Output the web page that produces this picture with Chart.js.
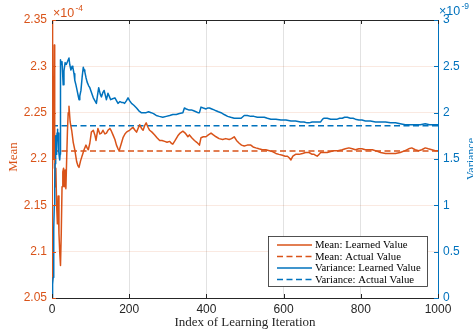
<!DOCTYPE html>
<html>
<head>
<meta charset="utf-8">
<script src="https://cdn.jsdelivr.net/npm/chart.js@4.4.1/dist/chart.umd.min.js"></script>
<style>
  html, body { margin: 0; padding: 0; background: #fff; }
  #chart { display: block; }
</style>
</head>
<body>
<canvas id="chart" width="473" height="333"></canvas>
<script>
// values
// mean is in units of 1e-4, variance in units of 1e-9
const meanIter = [0, 1, 2, 3, 4, 5, 6, 7, 8, 10, 12, 14, 16, 18, 20, 22, 24, 26, 28, 30,
    32, 34, 36, 38, 40, 42, 44, 47, 51, 55, 59, 64, 67, 70, 74, 77, 80, 83, 88, 91,
    94, 98, 102, 107, 111, 114, 119, 124, 128, 132, 137, 141, 145, 150, 154, 158, 163, 167, 171, 174,
    179, 184, 189, 193, 197, 201, 206, 210, 215, 219, 223, 227, 232, 236, 240, 244, 249, 253, 259, 266,
    272, 279, 285, 292, 298, 305, 309, 313, 319, 326, 332, 339, 345, 352, 356, 362, 369, 375, 382, 386,
    392, 399, 405, 412, 418, 425, 433, 442, 450, 459, 465, 472, 478, 485, 491, 498, 506, 515, 521, 528,
    536, 545, 554, 563, 571, 580, 588, 597, 604, 610, 615, 619, 624, 631, 640, 649, 657, 666, 674, 679,
    683, 687, 692, 696, 705, 713, 722, 730, 741, 752, 760, 769, 778, 786, 795, 803, 812, 821, 830, 838,
    851, 864, 877, 890, 902, 915, 924, 932, 941, 950, 958, 967, 975, 984, 993, 1000];
const meanLearned = [2.350, 2.240, 2.190, 2.260, 2.200, 2.230, 2.323, 2.220, 2.170, 2.190, 2.150, 2.130, 2.160, 2.120, 2.100, 2.085, 2.120, 2.170, 2.186, 2.190,
    2.170, 2.188, 2.168, 2.200, 2.230, 2.250, 2.257, 2.240, 2.231, 2.218, 2.210, 2.197, 2.193, 2.191, 2.198, 2.202, 2.206, 2.210, 2.215, 2.212,
    2.210, 2.217, 2.229, 2.231, 2.226, 2.220, 2.233, 2.227, 2.228, 2.231, 2.227, 2.228, 2.231, 2.233, 2.230, 2.226, 2.221, 2.215, 2.211, 2.209,
    2.216, 2.223, 2.227, 2.229, 2.230, 2.231, 2.233, 2.234, 2.231, 2.229, 2.233, 2.237, 2.233, 2.231, 2.236, 2.239, 2.234, 2.231, 2.229, 2.226,
    2.223, 2.220, 2.220, 2.219, 2.218, 2.219, 2.217, 2.216, 2.220, 2.225, 2.228, 2.230, 2.228, 2.224, 2.226, 2.223, 2.220, 2.218, 2.215, 2.223,
    2.224, 2.224, 2.226, 2.228, 2.226, 2.224, 2.222, 2.221, 2.222, 2.221, 2.222, 2.224, 2.220, 2.217, 2.215, 2.214, 2.215, 2.215, 2.213, 2.212,
    2.211, 2.210, 2.210, 2.209, 2.208, 2.206, 2.205, 2.204, 2.203, 2.203, 2.201, 2.199, 2.203, 2.205, 2.205, 2.206, 2.207, 2.207, 2.205, 2.205,
    2.204, 2.203, 2.205, 2.207, 2.207, 2.207, 2.208, 2.209, 2.209, 2.210, 2.211, 2.212, 2.211, 2.210, 2.211, 2.211, 2.210, 2.210, 2.210, 2.209,
    2.207, 2.206, 2.206, 2.206, 2.207, 2.209, 2.211, 2.212, 2.210, 2.209, 2.210, 2.212, 2.211, 2.210, 2.209, 2.209];

const varIter = [0, 1, 2, 3, 4, 5, 6, 7, 8, 9, 10, 11, 12, 13, 14, 15, 16, 17, 18, 19,
    20, 21, 22, 24, 26, 29, 31, 34, 37, 40, 44, 46, 49, 52, 54, 57, 59, 62, 65, 68,
    70, 72, 75, 78, 81, 83, 85, 88, 91, 95, 98, 102, 107, 111, 115, 118, 121, 125, 128, 132,
    135, 138, 141, 145, 149, 152, 157, 163, 167, 171, 176, 180, 184, 188, 193, 197, 201, 206, 212, 219,
    225, 231, 237, 244, 250, 257, 263, 270, 278, 287, 296, 305, 313, 322, 330, 339, 343, 348, 354, 361,
    367, 373, 378, 382, 386, 392, 399, 403, 408, 414, 420, 425, 431, 438, 446, 455, 463, 472, 480, 490,
    498, 506, 515, 523, 532, 541, 550, 558, 567, 580, 593, 606, 619, 631, 644, 653, 661, 666, 674, 683,
    692, 696, 701, 705, 713, 722, 730, 739, 745, 752, 758, 765, 773, 780, 786, 795, 803, 812, 825, 838,
    851, 864, 877, 890, 902, 915, 928, 941, 954, 967, 978, 988, 1000];
const varLearned = [0.00, 0.05, 0.15, 0.22, 0.45, 0.75, 1.00, 1.20, 1.45, 1.68, 1.75, 1.60, 1.55, 1.78, 1.82, 1.70, 1.78, 1.63, 1.58, 1.52,
    1.49, 1.55, 2.57, 2.52, 2.55, 2.30, 2.45, 2.54, 2.52, 2.55, 2.59, 2.52, 2.46, 2.50, 2.49, 2.42, 2.35, 2.30, 2.24, 2.18,
    2.14, 2.18, 2.24, 2.38, 2.49, 2.46, 2.44, 2.38, 2.33, 2.29, 2.27, 2.22, 2.16, 2.13, 2.10, 2.19, 2.27, 2.20, 2.17, 2.22,
    2.24, 2.19, 2.14, 2.21, 2.17, 2.14, 2.15, 2.16, 2.13, 2.10, 2.12, 2.11, 2.11, 2.10, 2.13, 2.16, 2.13, 2.10, 2.08, 2.05,
    2.02, 2.00, 2.00, 2.00, 2.01, 2.00, 1.99, 1.97, 1.96, 1.95, 1.96, 1.97, 1.98, 1.98, 1.99, 2.00, 2.05, 2.04, 2.03, 2.03,
    2.02, 2.01, 2.00, 2.00, 2.06, 2.05, 2.04, 2.05, 2.05, 2.04, 2.03, 2.02, 2.01, 2.00, 1.98, 1.96, 1.95, 1.94, 1.94, 1.94,
    1.97, 1.97, 1.96, 1.96, 1.95, 1.95, 1.95, 1.94, 1.93, 1.93, 1.92, 1.92, 1.91, 1.91, 1.90, 1.90, 1.89, 1.89, 1.90, 1.90,
    1.90, 1.90, 1.93, 1.94, 1.94, 1.93, 1.93, 1.93, 1.94, 1.94, 1.95, 1.95, 1.94, 1.94, 1.93, 1.92, 1.92, 1.91, 1.91, 1.90,
    1.90, 1.90, 1.89, 1.89, 1.88, 1.87, 1.87, 1.87, 1.87, 1.88, 1.87, 1.87, 1.87];

const meanActual = 2.2085;
const varActual = 1.858;

const iterTicks = [0, 200, 400, 600, 800, 1000];
const meanTicks = [2.05, 2.1, 2.15, 2.2, 2.25, 2.3, 2.35];
const varTicks = [0, 0.5, 1, 1.5, 2, 2.5, 3];

const orange = "#D95319";
const blue = "#0072BD";
const dark = "#262626";
const sans = "'Liberation Sans', Arial, Helvetica, sans-serif";
const serif = "'Liberation Serif', 'Times New Roman', serif";

const toPoints = (xs, ys) => xs.map((x, i) => ({ x: x, y: ys[i] }));
const flat = v => [{ x: 0, y: v }, { x: 1000, y: v }];

/* MATLAB-like extras: box line, inward ticks, exponents, titles, legend */

const decor = {
    id: "decor",
    afterDraw(chart) {
        const { ctx, chartArea: a, scales } = chart;
        ctx.save();
        ctx.lineWidth = 1;

        ctx.strokeStyle = dark;
        ctx.beginPath();
        ctx.moveTo(a.left, a.top + 0.5);
        ctx.lineTo(a.right, a.top + 0.5);
        iterTicks.forEach(v => {
            const px = Math.round(scales.x.getPixelForValue(v)) + 0.5;
            ctx.moveTo(px, a.top);
            ctx.lineTo(px, a.top + 4);
            ctx.moveTo(px, a.bottom);
            ctx.lineTo(px, a.bottom - 4);
        });
        ctx.stroke();

        ctx.strokeStyle = orange;
        ctx.beginPath();
        meanTicks.forEach(v => {
            const py = Math.round(scales.yMean.getPixelForValue(v)) + 0.5;
            ctx.moveTo(a.left, py);
            ctx.lineTo(a.left + 4, py);
        });
        ctx.stroke();

        ctx.strokeStyle = blue;
        ctx.beginPath();
        varTicks.forEach(v => {
            const py = Math.round(scales.yVar.getPixelForValue(v)) + 0.5;
            ctx.moveTo(a.right, py);
            ctx.lineTo(a.right - 4, py);
        });
        ctx.stroke();

        // exponent labels
        ctx.textAlign = "left";
        ctx.textBaseline = "alphabetic";
        ctx.fillStyle = orange;
        ctx.font = "12.5px " + sans;
        ctx.fillText("\u00d710", a.left + 1, 17);
        ctx.font = "8.5px " + sans;
        ctx.fillText("-4", a.left + 23.5, 10.5);
        ctx.fillStyle = blue;
        ctx.font = "12.5px " + sans;
        ctx.fillText("\u00d710", a.right + 1, 15);
        ctx.font = "8.5px " + sans;
        ctx.fillText("-9", a.right + 23.5, 8.5);

        // axis titles
        ctx.font = "13px " + serif;
        ctx.fillStyle = dark;
        ctx.textAlign = "center";
        ctx.fillText("Index of Learning Iteration", (a.left + a.right) / 2, 326);

        ctx.save();
        ctx.translate(17, 157);
        ctx.rotate(-Math.PI / 2);
        ctx.fillStyle = orange;
        ctx.fillText("Mean", 0, 0);
        ctx.restore();

        ctx.save();
        ctx.translate(474.5, 159);
        ctx.rotate(-Math.PI / 2);
        ctx.font = "12px " + serif;
        ctx.fillStyle = blue;
        ctx.fillText("Variance", 0, 0);
        ctx.restore();

        // legend
        const box = { x: 268.5, y: 236.5, w: 159, h: 50 };
        ctx.fillStyle = "#fff";
        ctx.fillRect(box.x, box.y, box.w, box.h);
        ctx.strokeStyle = dark;
        ctx.lineWidth = 0.8;
        ctx.strokeRect(box.x, box.y, box.w, box.h);

        ctx.font = "10.75px " + serif;
        ctx.textAlign = "left";
        ctx.textBaseline = "middle";
        chart.data.datasets.slice().sort((p, q) => p.legendRank - q.legendRank).forEach((ds, i) => {
            const y = 245 + i * 11.5;
            ctx.strokeStyle = ds.borderColor;
            ctx.lineWidth = 1.5;
            ctx.setLineDash(ds.borderDash || []);
            ctx.beginPath();
            ctx.moveTo(277, y);
            ctx.lineTo(312, y);
            ctx.stroke();
            ctx.setLineDash([]);
            ctx.fillStyle = "#000";
            ctx.fillText(ds.label, 315, y + 0.5);
        });

        ctx.restore();
    }
};

new Chart(document.getElementById("chart"), {
    type: "line",
    data: {
        datasets: [
            {
                label: "Variance: Learned Value",
                legendRank: 2,
                data: toPoints(varIter, varLearned),
                yAxisID: "yVar",
                borderColor: blue,
                borderWidth: 1.5,
                order: 0
            },
            {
                label: "Mean: Learned Value",
                legendRank: 0,
                data: toPoints(meanIter, meanLearned),
                yAxisID: "yMean",
                borderColor: orange,
                borderWidth: 1.5,
                order: 1
            },
            {
                label: "Mean: Actual Value",
                legendRank: 1,
                data: flat(meanActual),
                yAxisID: "yMean",
                borderColor: orange,
                borderWidth: 1.5,
                borderDash: [6, 3.5],
                order: 2
            },
            {
                label: "Variance: Actual Value",
                legendRank: 3,
                data: flat(varActual),
                yAxisID: "yVar",
                borderColor: blue,
                borderWidth: 1.5,
                borderDash: [6, 3.5],
                order: 3
            }
        ]
    },
    options: {
        responsive: false,
        animation: false,
        layout: { padding: { top: 20, left: 0, right: 0, bottom: 0 } },
        elements: {
            point: { radius: 0 },
            line: { tension: 0, borderJoinStyle: "round" }
        },
        plugins: {
            legend: { display: false },
            tooltip: { enabled: false }
        },
        scales: {
            x: {
                type: "linear",
                min: 0,
                max: 1000,
                afterBuildTicks: s => { s.ticks = iterTicks.map(v => ({ value: v })); },
                afterFit: s => { s.height = 35; },
                ticks: {
                    color: dark,
                    padding: 4,
                    maxRotation: 0,
                    font: { family: sans, size: 12 },
                    callback: v => String(v)
                },
                grid: { color: "#e2e2e2", drawTicks: false },
                border: { color: dark, width: 1 }
            },
            yMean: {
                type: "linear",
                position: "left",
                min: 2.05,
                max: 2.35,
                afterBuildTicks: s => { s.ticks = meanTicks.map(v => ({ value: v })); },
                afterFit: s => { s.width = 52; },
                ticks: {
                    color: orange,
                    padding: 5,
                    font: { family: sans, size: 12 },
                    callback: v => String(Number(v.toFixed(2)))
                },
                grid: { color: "rgba(217,83,25,0.13)", drawTicks: false },
                border: { color: orange, width: 1 }
            },
            yVar: {
                type: "linear",
                position: "right",
                min: 0,
                max: 3,
                afterBuildTicks: s => { s.ticks = varTicks.map(v => ({ value: v })); },
                afterFit: s => { s.width = 35; },
                ticks: {
                    color: blue,
                    padding: 5,
                    font: { family: sans, size: 12 },
                    callback: v => String(Number(v.toFixed(1)))
                },
                grid: { display: false, drawTicks: false },
                border: { color: blue, width: 1 }
            }
        }
    },
    plugins: [decor]
});
</script>
</body>
</html>
